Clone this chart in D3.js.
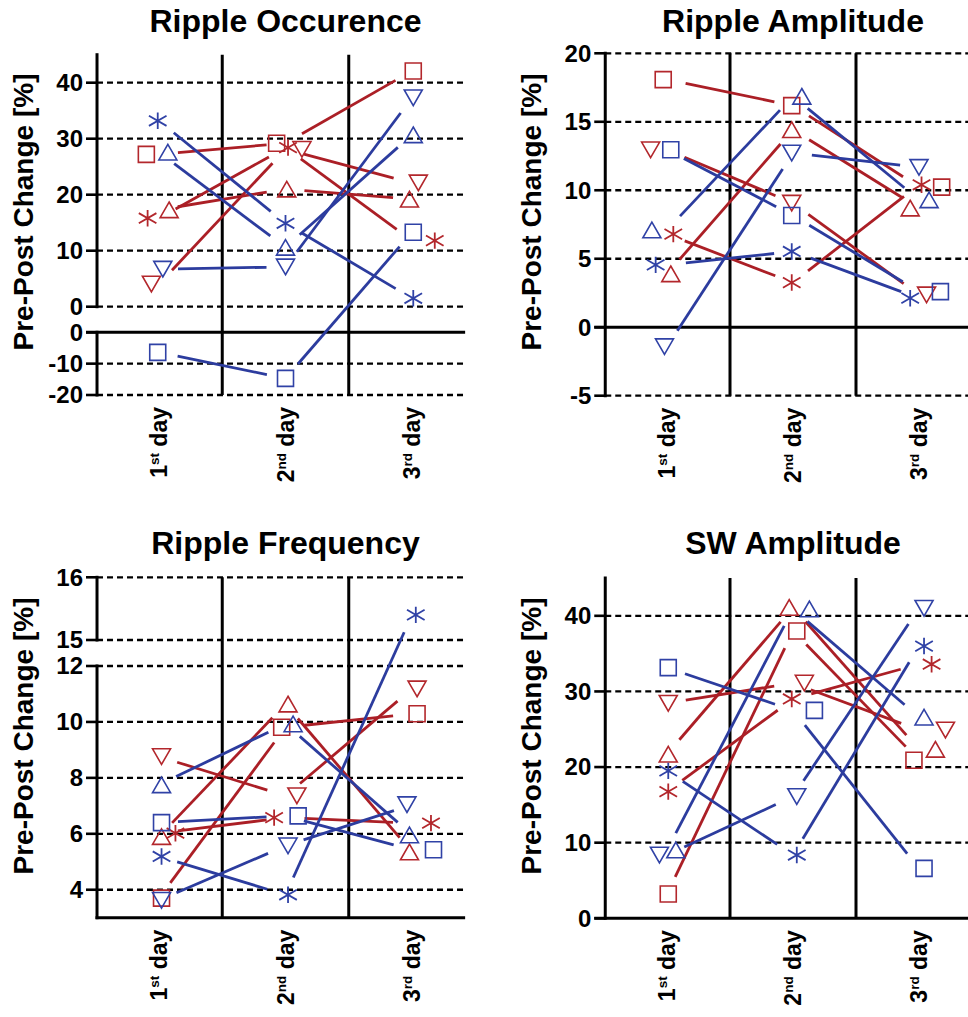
<!DOCTYPE html>
<html>
<head>
<meta charset="utf-8">
<script src="https://cdn.jsdelivr.net/npm/d3@7"></script>
<style>
  body { margin: 0; background: #fff; }
  text { font-family: "Liberation Sans", Arial, Helvetica, sans-serif; font-weight: bold; fill: #000; }
</style>
</head>
<body>
<svg id="chart" width="968" height="1017"></svg>
<script>
// ---------------- DATA ----------------
const dayNumbers = ["1", "2", "3"];
const daySuffixes = ["st", "nd", "rd"];

// subject order: group A (red) square, triUp, triDown, asterisk; group B (blue) same
const subjectGroup = ["A", "A", "A", "A", "B", "B", "B", "B"];
const subjectShape = ["square", "triUp", "triDown", "asterisk", "square", "triUp", "triDown", "asterisk"];

// Ripple Occurence (% change), days 1-3
const occurrenceValues = [
  [27.2, 29.2, 42.1],
  [17.3, 21.0, 19.2],
  [4.05, 28.1, 22.1],
  [15.8, 28.4, 11.8],
  [-6.4, -14.7, 13.3],
  [27.6, 10.6, 30.7],
  [6.7, 7.1, 37.3],
  [33.2, 14.9, 1.5]
];
const occurrenceJitter = [
  [-0.10, -0.07, 0.01],
  [0.08, 0.01, -0.02],
  [-0.06, 0.13, 0.05],
  [-0.09, 0.02, 0.18],
  [-0.01, 0.00, 0.01],
  [0.07, 0.00, 0.01],
  [0.03, 0.00, 0.01],
  [-0.01, 0.00, 0.01]
];
const occurrenceTicksUpper = [0, 10, 20, 30, 40];
const occurrenceTicksLower = [-20, -10, 0];

// Ripple Amplitude
const amplitudeValues = [
  [18.08, 16.18, 10.23],
  [3.9, 14.42, 8.7],
  [12.95, 9.06, 2.36],
  [6.8, 3.26, 10.4],
  [12.96, 8.16, 2.6],
  [7.1, 16.86, 9.3],
  [-1.42, 12.72, 11.67],
  [4.55, 5.53, 2.12]
];
const amplitudeJitter = [
  [-0.03, -0.01, 0.18],
  [0.03, -0.01, -0.07],
  [-0.13, -0.01, 0.06],
  [0.05, -0.01, 0.02],
  [0.03, -0.01, 0.17],
  [-0.12, 0.07, 0.08],
  [-0.02, -0.01, 0.00],
  [-0.09, -0.01, -0.07]
];
const amplitudeTicks = [-5, 0, 5, 10, 15, 20];

// Ripple Frequency
const frequencyValues = [
  [3.7, 9.81, 10.29],
  [5.9, 10.64, 5.35],
  [8.76, 7.36, 11.18],
  [6.02, 6.58, 6.38],
  [6.4, 6.64, 5.43],
  [7.75, 9.93, 5.96],
  [3.62, 5.57, 7.04],
  [5.19, 3.82, 15.4]
];
const frequencyJitter = [
  [0.02, -0.03, 0.04],
  [0.02, 0.02, -0.02],
  [0.02, 0.09, 0.04],
  [0.13, -0.09, 0.15],
  [0.02, 0.10, 0.17],
  [0.02, 0.06, -0.02],
  [0.02, 0.02, -0.04],
  [0.02, 0.02, 0.03]
];
const frequencyTicksUpper = [15, 16];
const frequencyTicksLower = [4, 6, 8, 10, 12];

// SW Amplitude
const swValues = [
  [3.21, 38.0, 20.9],
  [21.7, 41.1, 22.35],
  [28.44, 31.1, 24.9],
  [16.75, 29.0, 33.6],
  [33.15, 27.5, 6.6],
  [9.03, 40.9, 26.6],
  [8.37, 16.1, 41.0],
  [19.5, 8.37, 36.0]
];
const swJitter = [
  [0.01, 0.03, -0.04],
  [0.01, -0.03, 0.13],
  [0.01, 0.09, 0.21],
  [0.01, -0.01, 0.10],
  [0.01, 0.17, 0.04],
  [0.07, 0.13, 0.04],
  [-0.06, 0.03, 0.04],
  [0.01, 0.03, 0.04]
];
const swTicks = [0, 10, 20, 30, 40];

// ---------------- LAYOUT ----------------
const panels = [
  { title: "Ripple Occurence", values: occurrenceValues, jitter: occurrenceJitter,
    xRange: [159, 412], titleY: 32, labelY: 212,
    segments: [
      { domain: [0, 45], range: [306.7, 54.7], ticks: occurrenceTicksUpper, solid: null },
      { domain: [-20, 0], range: [395, 332.3], ticks: occurrenceTicksLower, solid: 0 }
    ] },
  { title: "Ripple Amplitude", values: amplitudeValues, jitter: amplitudeJitter,
    xRange: [667, 919], titleY: 32, labelY: 212,
    segments: [
      { domain: [-5, 20], range: [395.7, 53.3], ticks: amplitudeTicks, solid: 0 }
    ] },
  { title: "Ripple Frequency", values: frequencyValues, jitter: frequencyJitter,
    xRange: [159, 412], titleY: 554, labelY: 736,
    segments: [
      { domain: [15, 16], range: [640, 577.3], ticks: frequencyTicksUpper, solid: null },
      { domain: [3, 12], range: [917.7, 666], ticks: frequencyTicksLower, solid: 3 }
    ] },
  { title: "SW Amplitude", values: swValues, jitter: swJitter,
    xRange: [667, 919], titleY: 554, labelY: 736,
    segments: [
      { domain: [0, 45], range: [918.3, 578], ticks: swTicks, solid: 0 }
    ] }
];

const color = d3.scaleOrdinal().domain(["A", "B"]).range(["#ab1f26", "#2c3c9e"]);
const markerColor = d3.scaleOrdinal().domain(["A", "B"]).range(["#b3272c", "#3042a6"]);

function markerPath(shape) {
  const p = d3.path();
  if (shape === "square") {
    p.rect(-8, -8, 16, 16);
  } else if (shape === "triUp") {
    p.moveTo(0, -7.8); p.lineTo(9, 7.8); p.lineTo(-9, 7.8); p.closePath();
  } else if (shape === "triDown") {
    p.moveTo(0, 7.8); p.lineTo(9, -7.8); p.lineTo(-9, -7.8); p.closePath();
  } else {
    const r = 8.2, u = 8.8, t = 5.1;
    p.moveTo(0, -r); p.lineTo(0, r);
    p.moveTo(-u, -t); p.lineTo(u, t);
    p.moveTo(-u, t); p.lineTo(u, -t);
  }
  return p.toString();
}

const svg = d3.select("#chart");
svg.append("rect").attr("width", 968).attr("height", 1017).attr("fill", "#fff");

panels.forEach(panel => {
  const x = d3.scaleLinear().domain([1, 3]).range(panel.xRange);
  const x0 = x(0.51), xEnd = x(3.42);
  const segs = panel.segments.map(s => Object.assign({}, s, {
    scale: d3.scaleLinear().domain(s.domain).range(s.range)
  }));
  const y = v => {
    let s = segs.find(s => v >= s.domain[0] && v <= s.domain[1]);
    if (!s) s = v > segs[0].domain[1] ? segs[0] : segs[segs.length - 1];
    return s.scale(v);
  };
  const top = d3.min(segs, s => d3.min(s.range));
  const bottom = d3.max(segs, s => d3.max(s.range));
  const g = svg.append("g");

  // dashed grid lines
  segs.forEach(s => {
    g.selectAll(null).data(s.ticks.filter(t => t !== s.solid)).enter().append("line")
      .attr("x1", x0).attr("x2", xEnd)
      .attr("y1", d => s.scale(d)).attr("y2", d => s.scale(d))
      .attr("stroke", "#000").attr("stroke-width", 2.3).attr("stroke-dasharray", "6,4");
  });
  // day separators
  g.selectAll(null).data([1.5, 2.5]).enter().append("line")
    .attr("x1", d => x(d)).attr("x2", d => x(d))
    .attr("y1", top).attr("y2", bottom)
    .attr("stroke", "#000").attr("stroke-width", 3);
  // solid lines
  segs.filter(s => s.solid !== null).forEach(s => {
    const hasTick = s.ticks.includes(s.solid);
    g.append("line")
      .attr("x1", hasTick ? x0 - 11 : x0 - 1.5).attr("x2", xEnd)
      .attr("y1", s.scale(s.solid)).attr("y2", s.scale(s.solid))
      .attr("stroke", "#000").attr("stroke-width", 3);
  });
  // axis segments, ticks, labels
  segs.forEach(s => {
    g.append("line")
      .attr("x1", x0).attr("x2", x0)
      .attr("y1", s.range[0] + 1.5).attr("y2", s.range[1] - 1.5)
      .attr("stroke", "#000").attr("stroke-width", 3);
    g.selectAll(null).data(s.ticks).enter().append("line")
      .attr("x1", x0 - 11).attr("x2", x0)
      .attr("y1", d => s.scale(d)).attr("y2", d => s.scale(d))
      .attr("stroke", "#000").attr("stroke-width", 2.6);
    g.selectAll(null).data(s.ticks).enter().append("text")
      .attr("x", x0 - 14).attr("y", d => s.scale(d)).attr("dy", "0.35em")
      .attr("text-anchor", "end").attr("font-size", 24)
      .text(d => d);
  });

  // connecting lines (trimmed away from markers)
  const gap = 19;
  panel.values.forEach((vals, i) => {
    for (let k = 0; k < vals.length - 1; k++) {
      const x1 = x(k + 1), y1 = y(vals[k]);
      const x2 = x(k + 2), y2 = y(vals[k + 1]);
      const len = Math.hypot(x2 - x1, y2 - y1);
      const ux = (x2 - x1) / len, uy = (y2 - y1) / len;
      g.append("line")
        .attr("x1", x1 + ux * gap).attr("y1", y1 + uy * gap)
        .attr("x2", x2 - ux * gap).attr("y2", y2 - uy * gap)
        .attr("stroke", color(subjectGroup[i])).attr("stroke-width", 2.8);
    }
  });

  // markers
  panel.values.forEach((vals, i) => {
    vals.forEach((v, k) => {
      g.append("path")
        .attr("d", markerPath(subjectShape[i]))
        .attr("transform", `translate(${x(k + 1 + panel.jitter[i][k])},${y(v)})`)
        .attr("fill", "none")
        .attr("stroke", markerColor(subjectGroup[i]))
        .attr("stroke-width", subjectShape[i] === "asterisk" ? 1.8 : 1.6);
    });
  });

  // title
  g.append("text").attr("x", x(2)).attr("y", panel.titleY)
    .attr("text-anchor", "middle").attr("font-size", 32).text(panel.title);

  // y label
  g.append("text")
    .attr("transform", `translate(${x0 - 64},${panel.labelY}) rotate(-90)`)
    .attr("text-anchor", "middle").attr("font-size", 28)
    .text("Pre-Post Change [%]");

  // day labels
  dayNumbers.forEach((num, k) => {
    const t = g.append("text")
      .attr("transform", `translate(${x(k + 1) + 8},${bottom + 12}) rotate(-90)`)
      .attr("text-anchor", "end");
    t.append("tspan").attr("font-size", 23).text(num);
    t.append("tspan").attr("font-size", 13.5).attr("dy", -8).text(daySuffixes[k]);
    t.append("tspan").attr("font-size", 23).attr("dy", 8).text(" day");
  });
});
</script>
</body>
</html>
